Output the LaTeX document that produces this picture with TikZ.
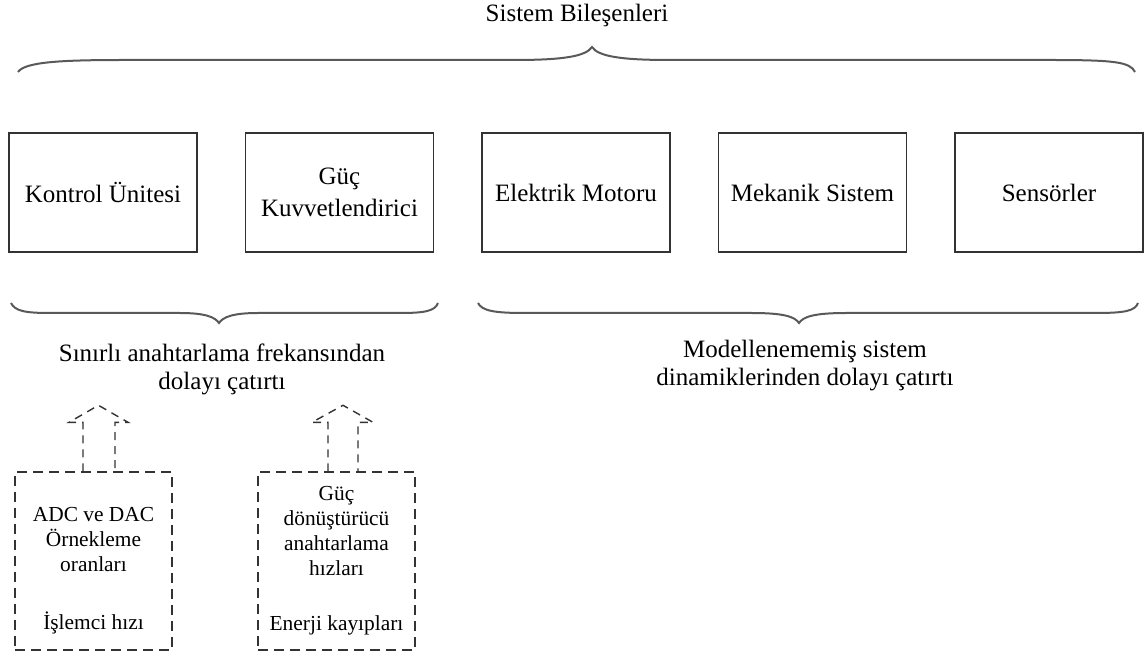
\documentclass[tikz,border=0pt]{standalone}
\usepackage{fontspec}
\setmainfont{Liberation Serif}
\usetikzlibrary{calc}
\tikzset{
  comp/.style={draw=black!80,line width=0.7pt,minimum width=94pt,minimum height=59.5pt,align=center,inner sep=2pt,font=\fontsize{12.5}{16}\selectfont},
  factor/.style={draw=black!80,line width=0.7pt,dash pattern=on 5pt off 3pt,minimum width=78.5pt,minimum height=89pt,align=center,inner sep=2pt,font=\fontsize{10.7}{12.5}\selectfont},
  lbl/.style={align=center,font=\fontsize{12.5}{14}\selectfont},
  brc/.style={draw=black!65,line width=1pt},
  hollow/.style={draw=black!80,line width=0.7pt,dash pattern=on 4pt off 3pt},
}
\begin{document}
\begin{tikzpicture}[x=0.5pt,y=-0.5pt]
\useasboundingbox (0,0) rectangle (1144,657);
\node[lbl] (title) at (577,15) {Sistem Bileşenleri};
\foreach \n/\t [count=\i] in {k/Kontrol Ünitesi,g/{Güç\\Kuvvetlendirici},e/Elektrik Motoru,m/Mekanik Sistem,s/Sensörler}
  \node[comp] (\n) at ({103+236.5*(\i-1)},192.5) {\t};
% braces
\draw[brc] (18,72) .. controls (25,62) and (60,60) .. (124,60) -- (515,60)
  .. controls (565,60) and (586,56) .. (592,47) .. controls (598,56) and (619,60) .. (669,60)
  -- (1051,60) .. controls (1115,60) and (1130,62) .. (1135,72);
\draw[brc] (11,303) .. controls (15,311) and (25,313) .. (50,313) -- (180,313)
  .. controls (205,313) and (215,317) .. (219,323) .. controls (223,317) and (233,313) .. (258,313)
  -- (400,313) .. controls (425,313) and (435,311) .. (438,303);
\draw[brc] (478,303) .. controls (482,311) and (495,313) .. (525,313) -- (752,313)
  .. controls (785,313) and (795,317) .. (799,323) .. controls (803,317) and (813,313) .. (846,313)
  -- (1095,313) .. controls (1125,313) and (1135,311) .. (1138,303);
\node[lbl] (frek) at (222,369) {Sınırlı anahtarlama frekansından\\dolayı çatırtı};
\node[lbl] (model) at (805,366) {Modellenememiş sistem\\dinamiklerinden dolayı çatırtı};
% sources
\node[factor] (adc) at (93.5,561) {\rule{0pt}{17pt}ADC ve DAC\\Örnekleme\\oranları\\[16.5pt]İşlemci hızı};
\node[factor] (gd) at (336.5,561) {Güç\\dönüştürücü\\anahtarlama\\hızları\\[15pt]Enerji kayıpları};
\draw[hollow] ($(adc.north)+(-10.5,0)$) -- ++(0,-49) -- ++(-14,0) -- ++(29.5,-17) -- ++(29.5,17) -- ++(-13,0) -- ++(0,49);
\draw[hollow] ($(gd.north)+(-8.5,0)$) -- ++(0,-49) -- ++(-16,0) -- ++(31,-17) -- ++(30,17) -- ++(-15,0) -- ++(0,49);
\end{tikzpicture}
\end{document}
